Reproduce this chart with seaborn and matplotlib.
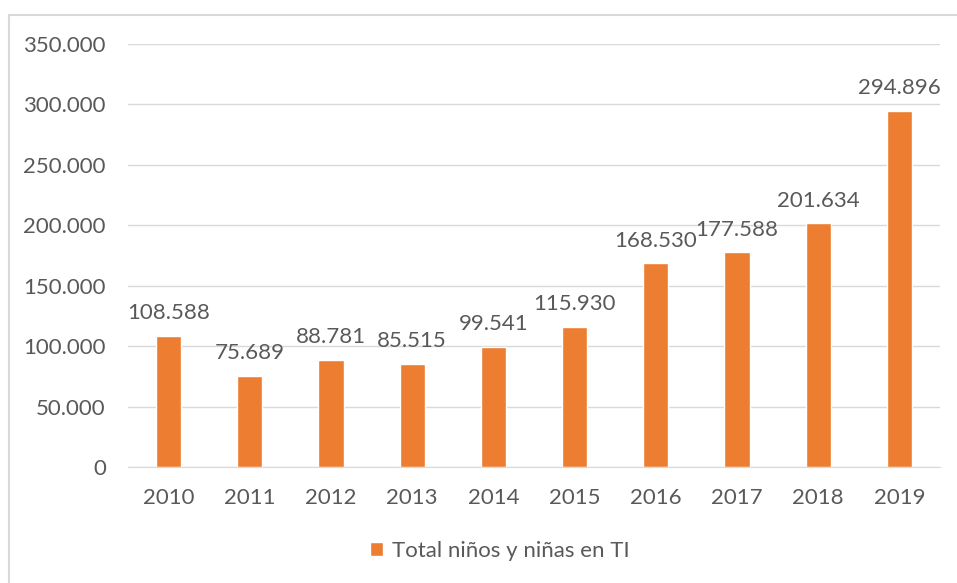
import matplotlib
matplotlib.use("Agg")
import matplotlib.pyplot as plt
import seaborn as sns
import pandas as pd
from matplotlib.patches import Rectangle

years = ["2010", "2011", "2012", "2013", "2014", "2015", "2016", "2017", "2018", "2019"]
totals = [108588, 75689, 88781, 85515, 99541, 115930, 168530, 177588, 201634, 294896]
y_ticks = [0, 50000, 100000, 150000, 200000, 250000, 300000, 350000]
series_name = "Total niños y niñas en TI"

df = pd.DataFrame({"year": years, "total": totals})

sns.set_style("white")
plt.rcParams['font.family'] = ['Lato', 'DejaVu Sans']

orange = "#ED7D31"
text_col = "#595959"

def fmt(v):
    return f"{int(v):,}".replace(",", ".")

fig = plt.figure(figsize=(9.57, 5.83), dpi=100)
ax = fig.add_axes([128 / 957, 1 - 467 / 583, (940 - 128) / 957, (467 - 44) / 583])

sns.barplot(data=df, x="year", y="total", color=orange, width=0.31,
            saturation=1, ax=ax, label=series_name)
handles, labels = ax.get_legend_handles_labels()
if ax.get_legend() is not None:
    ax.get_legend().remove()

ax.set_ylim(0, 350000)
ax.set_xlim(-0.5, len(years) - 0.5)
ax.set_yticks(y_ticks)
ax.set_yticklabels([fmt(v) for v in y_ticks])
ax.yaxis.grid(True, color="#D9D9D9", linewidth=1)
ax.set_axisbelow(True)
ax.set_xlabel("")
ax.set_ylabel("")
for s in ["top", "right", "left"]:
    ax.spines[s].set_visible(False)
ax.spines["bottom"].set_color("#D9D9D9")
ax.tick_params(axis="both", length=0, labelsize=16, colors=text_col)
ax.tick_params(axis="y", pad=16)
ax.tick_params(axis="x", pad=15)

ax.bar_label(ax.containers[0], labels=[fmt(v) for v in totals],
             padding=9, fontsize=16, color=text_col)

# legend under the plot, centred on the whole chart
fig.legend(handles, labels, loc="center",
           bbox_to_anchor=(500 / 957, 1 - 551 / 583), frameon=False,
           fontsize=16, handlelength=0.6, handleheight=0.6,
           handletextpad=0.4, labelcolor=text_col)

# chart frame
fig.patches.append(Rectangle((9 / 957, -0.05), 1.2, 1 - 15 / 583 + 0.05,
                             transform=fig.transFigure, fill=False,
                             edgecolor="#D9D9D9", linewidth=1.5))

fig.savefig("out.png", dpi=100)
